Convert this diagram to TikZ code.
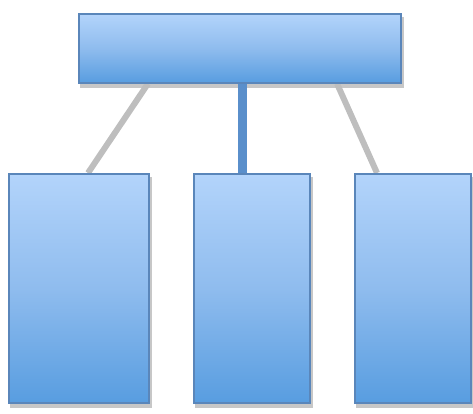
\documentclass[tikz,border=0pt]{standalone}
\usetikzlibrary{backgrounds,calc}
\definecolor{boxtop}{HTML}{B3D4FB}
\definecolor{boxmid}{HTML}{8FBCEE}
\definecolor{boxbot}{HTML}{589DE0}
\definecolor{boxline}{HTML}{5A86BA}
\definecolor{grayline}{HTML}{BEBEBE}
\definecolor{blueline}{HTML}{5A8FCB}
\tikzset{
  px/.style={x=1pt,y=-1pt},
  box/.style={draw=boxline, line width=1.6pt, rectangle, inner sep=0pt,
    top color=boxtop, bottom color=boxbot, middle color=boxmid},
  boxshadow/.style={fill=black, opacity=0.22},
  grayconn/.style={draw=grayline, line width=6pt},
  blueconn/.style={draw=blueline, line width=9pt}
}
\begin{document}
\begin{tikzpicture}[px]
\useasboundingbox (0,0) rectangle (473,413);
\node[box, minimum width=322pt, minimum height=69pt, anchor=north west] (top) at (78,13) {};
\node[box, minimum width=140pt, minimum height=229pt, anchor=north west] (L) at (8,173) {};
\node[box, minimum width=116pt, minimum height=229pt, anchor=north west] (M) at (193,173) {};
\node[box, minimum width=116pt, minimum height=229pt, anchor=north west] (R) at (354,173) {};
\begin{scope}[on background layer]
\foreach \n in {top,L,M,R}{
  \fill[boxshadow] ($(\n.north west)+(2,4)$) rectangle ($(\n.south east)+(2,4)$);
}
\draw[grayconn] ($(top.south west)+(70,0)$) -- ($(L.north west)+(80,0)$);
\draw[grayconn] ($(top.south west)+(259,0)$) -- ($(R.north west)+(23,0)$);
\draw[blueconn] ($(top.south west)+(164,0)$) -- ($(M.north west)+(49,0)$);
\end{scope}
\end{tikzpicture}
\end{document}
